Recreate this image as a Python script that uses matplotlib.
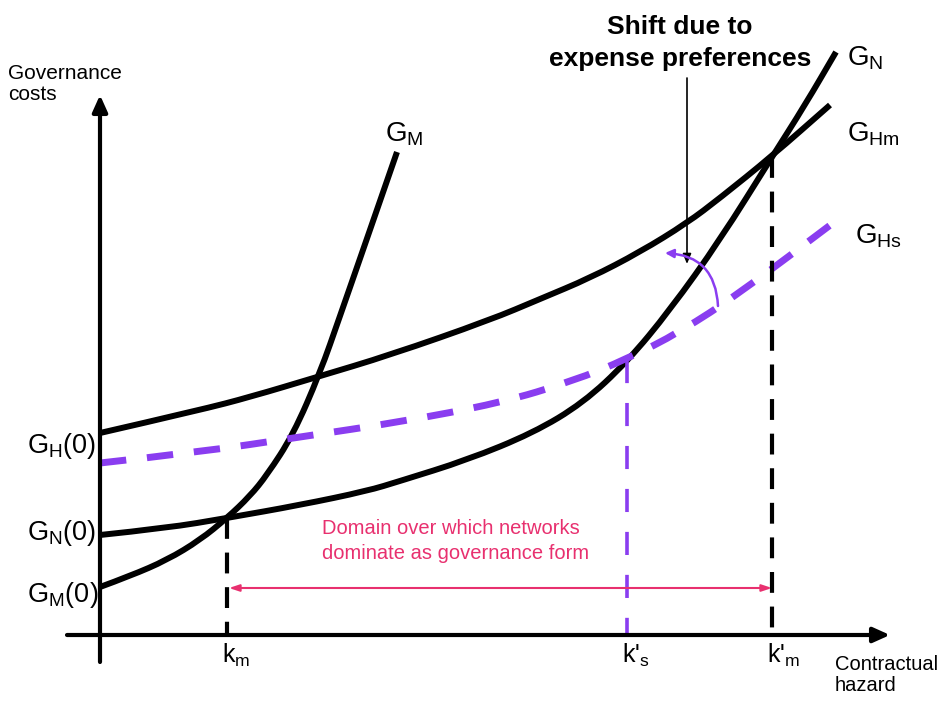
import matplotlib
matplotlib.use('Agg')
from matplotlib import pyplot as plt
from matplotlib.path import Path
from matplotlib.patches import PathPatch

plt.rcParams['font.family'] = ['Liberation Sans', 'DejaVu Sans']
plt.rcParams['mathtext.fontset'] = 'custom'
plt.rcParams['mathtext.rm'] = 'Liberation Sans'
plt.rcParams['mathtext.it'] = 'Liberation Sans'
plt.rcParams['mathtext.default'] = 'regular'

# curves (x = hazard, y = cost, pixel-like units, y down)
gm_x = [100, 130, 167, 200, 227, 250, 267, 293, 320, 340, 363, 397]
gm_y = [587, 576, 560, 540, 518, 496, 475, 435, 373, 316, 250, 152]

gn_x = [100, 167, 227, 300, 367, 400, 467, 533, 583, 627, 670, 720, 772, 805, 836]
gn_y = [535, 528, 518, 505, 491, 481, 460, 433, 403, 362, 310, 240, 157, 105, 52]

ghm_x = [100, 200, 250, 317, 390, 490, 540, 590, 640, 687, 720, 772, 830]
ghm_y = [433, 410, 397, 377, 355, 320, 299, 278, 252, 223, 198, 156, 105]

ghs_x = [100, 200, 300, 400, 500, 573, 627, 680, 740, 837]
ghs_y = [463, 452, 437, 422, 403, 381, 359, 332, 293, 220]

# critical hazard levels and where the verticals stop
k_x = [227, 627, 772]
k_top = [518, 360, 157]
k_labels = ['k$_{m}$', "k'$_{s}$", "k'$_{m}$"]

purple = '#8a3df0'
pink = '#e8306f'


def curve(ax, xs, ys, **kw):
    # quadratic bezier through the midpoints, read points used as control points
    verts = [(xs[0], ys[0])]
    codes = [Path.MOVETO]
    for i in range(1, len(xs) - 1):
        verts += [(xs[i], ys[i]), ((xs[i] + xs[i + 1]) / 2, (ys[i] + ys[i + 1]) / 2)]
        codes += [Path.CURVE3, Path.CURVE3]
    verts.append((xs[-1], ys[-1]))
    codes.append(Path.LINETO)
    ax.add_patch(PathPatch(Path(verts, codes), fill=False, capstyle='butt', **kw))


fig = plt.figure(figsize=(9.43, 7.04), dpi=100)
ax = fig.add_axes([0, 0, 1, 1])
ax.set_xlim(0, 943)
ax.set_ylim(704, 0)
ax.axis('off')

# axes with arrows
ax.annotate('', xy=(100, 95), xytext=(100, 662),
            arrowprops=dict(arrowstyle='-|>,head_length=1.0,head_width=0.45',
                            lw=3, color='black', shrinkA=0, shrinkB=0))
ax.annotate('', xy=(890, 635), xytext=(67, 635),
            arrowprops=dict(arrowstyle='-|>,head_length=1.0,head_width=0.45',
                            lw=3, color='black', shrinkA=0, shrinkB=0))

# curves
curve(ax, gm_x, gm_y, edgecolor='black', lw=4.3)
curve(ax, gn_x, gn_y, edgecolor='black', lw=4.3)
curve(ax, ghm_x, ghm_y, edgecolor='black', lw=4.3)
curve(ax, ghs_x, ghs_y, edgecolor=purple, lw=5, linestyle=(0, (3.8, 3)))

# dashed verticals
ax.plot([k_x[0], k_x[0]], [k_top[0], 635], color='black', lw=3, dashes=(5, 3.3))
ax.plot([k_x[1], k_x[1]], [k_top[1], 635], color=purple, lw=2.6, dashes=(6.4, 5.5))
ax.plot([k_x[2], k_x[2]], [k_top[2], 635], color='black', lw=3, dashes=(5, 3.3))

for x, lab in zip(k_x, k_labels):
    ax.text(x - 5, 663, lab, fontsize=18, ha='left', va='baseline')

# domain arrow
ax.annotate('', xy=(772, 588), xytext=(229, 588),
            arrowprops=dict(arrowstyle='<|-|>,head_length=0.6,head_width=0.2',
                            lw=1.5, color=pink, shrinkA=0, shrinkB=0))
ax.text(322, 541, 'Domain over which networks\ndominate as governance form',
        fontsize=14.5, color=pink, ha='left', va='center', linespacing=1.35)

# shift annotation
ax.text(680, 43, 'Shift due to\nexpense preferences', fontsize=19, fontweight='bold',
        ha='center', va='center', linespacing=1.4)
ax.annotate('', xy=(687, 264), xytext=(687, 78),
            arrowprops=dict(arrowstyle='-|>,head_length=0.6,head_width=0.25',
                            lw=1.2, color='black', shrinkA=0, shrinkB=0))
ax.annotate('', xy=(665, 253), xytext=(718, 306),
            arrowprops=dict(arrowstyle='-|>,head_length=0.5,head_width=0.25',
                            lw=1.8, color=purple, shrinkA=0, shrinkB=0,
                            connectionstyle='arc3,rad=0.45'))

# curve labels
ax.text(385, 142, 'G$_{M}$', fontsize=20, ha='left', va='baseline')
ax.text(847, 66, 'G$_{N}$', fontsize=20, ha='left', va='baseline')
ax.text(847, 141, 'G$_{Hm}$', fontsize=20, ha='left', va='baseline')
ax.text(855, 244, 'G$_{Hs}$', fontsize=20, ha='left', va='baseline')

ax.text(27, 453, 'G$_{H}$(0)', fontsize=19.5, ha='left', va='baseline')
ax.text(27, 540, 'G$_{N}$(0)', fontsize=19.5, ha='left', va='baseline')
ax.text(27, 602, 'G$_{M}$(0)', fontsize=19.5, ha='left', va='baseline')

ax.text(8, 64, 'Governance\ncosts', fontsize=15, ha='left', va='top', linespacing=1.15)
ax.text(835, 655, 'Contractual\nhazard', fontsize=14.5, ha='left', va='top', linespacing=1.15)

plt.savefig('out.png', dpi=100)
